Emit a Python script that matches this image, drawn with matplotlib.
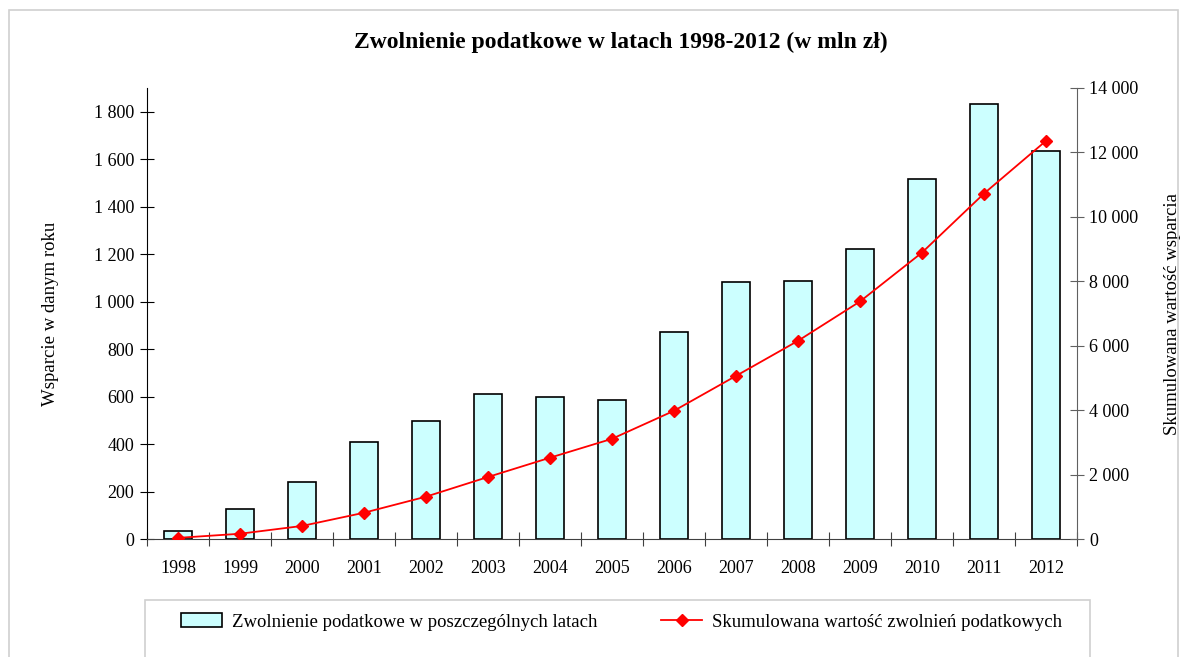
import matplotlib.pyplot as plt
from matplotlib.patches import Rectangle
from matplotlib.lines import Line2D
from matplotlib.ticker import FuncFormatter, FixedLocator
import numpy as np

plt.rcParams['font.family'] = ['Liberation Serif', 'DejaVu Serif']

years = ['1998', '1999', '2000', '2001', '2002', '2003', '2004', '2005',
         '2006', '2007', '2008', '2009', '2010', '2011', '2012']
yearly = [35, 128, 242, 410, 499, 611, 599, 586, 870, 1083, 1089, 1221, 1518, 1833, 1636]
cumulative = [35, 163, 405, 815, 1314, 1925, 2524, 3110, 3980, 5063, 6152, 7373, 8891, 10724, 12360]

title = 'Zwolnienie podatkowe w latach 1998-2012 (w mln zł)'
left_label = 'Wsparcie w danym roku'
right_label = 'Skumulowana wartość wsparcia'
bar_name = 'Zwolnienie podatkowe w poszczególnych latach'
line_name = 'Skumulowana wartość zwolnień podatkowych'

def spaced(v, pos):
    return f'{int(v):,}'.replace(',', ' ')

fig = plt.figure(figsize=(11.88, 6.57), dpi=100)
# outer frame
fig.patches.append(Rectangle((9 / 1188, -0.05), 1169 / 1188, 1.05 - 10 / 657, transform=fig.transFigure,
                             fill=False, edgecolor='#d0d0d0', lw=1.2))
# legend frame
fig.patches.append(Rectangle((145 / 1188, -0.05), 945 / 1188, 0.05 + 57 / 657, transform=fig.transFigure,
                             fill=False, edgecolor='#d0d0d0', lw=1.2))

ax = fig.add_axes([147 / 1188, 1 - 539 / 657, 930 / 1188, 451 / 657])
x = np.arange(len(years))
ax.bar(x, yearly, width=0.44, color='#ccffff', edgecolor='black', lw=1.2, zorder=2)
ax.set_xlim(-0.5, len(years) - 0.5)
ax.set_ylim(0, 1900)
ax.set_yticks(np.arange(0, 1801, 200))
ax.yaxis.set_major_formatter(FuncFormatter(spaced))
ax.xaxis.set_major_locator(FixedLocator(np.arange(-0.5, len(years), 1.0)))
ax.xaxis.set_major_formatter(FuncFormatter(lambda v, p: ''))
ax.xaxis.set_minor_locator(FixedLocator(x))
ax.set_xticklabels(years, minor=True)
ax.tick_params(axis='x', which='major', direction='inout', length=10, color='#404040')
ax.tick_params(axis='x', which='minor', length=0, pad=15, labelsize=13)
ax.tick_params(axis='y', direction='inout', length=10, labelsize=13, pad=4)
ax.spines['top'].set_visible(False)
ax.spines['right'].set_visible(False)
ax.spines['bottom'].set_color('#404040')
ax.set_ylabel(left_label, fontsize=13.5, va='center')
ax.yaxis.set_label_coords(-0.104, 0.5)

ax2 = ax.twinx()
ax2.plot(x, cumulative, color='red', lw=1.3, marker='D', markersize=6, zorder=3)
ax2.set_ylim(0, 14000)
ax2.set_yticks(np.arange(0, 14001, 2000))
ax2.yaxis.set_major_formatter(FuncFormatter(spaced))
ax2.tick_params(axis='y', direction='inout', length=10, labelsize=13, pad=4, color='#606060')
for s in ['top', 'left', 'bottom']:
    ax2.spines[s].set_visible(False)
ax2.spines['right'].set_color('#606060')
ax2.set_ylabel(right_label, fontsize=13.5, rotation=90, va='center')
ax2.yaxis.set_label_coords(1.103, 0.5)

fig.text(621 / 1188, 1 - 42 / 657, title, ha='center', va='center', fontsize=17, fontweight='bold')

h1 = Rectangle((0, 0), 1, 1, facecolor='#ccffff', edgecolor='black', lw=1.2)
h2 = Line2D([], [], color='red', lw=1.3, marker='D', markersize=6)
leg1 = fig.legend([h1], [bar_name], loc='center left', bbox_to_anchor=(164 / 1188, 1 - 622 / 657),
                  frameon=False, fontsize=13.5, handlelength=2.2, handletextpad=0.5)
leg2 = fig.legend([h2], [line_name], loc='center left', bbox_to_anchor=(644 / 1188, 1 - 622 / 657),
                  frameon=False, fontsize=13.5, handlelength=2.2, handletextpad=0.5)

fig.savefig('out.png', dpi=100)
